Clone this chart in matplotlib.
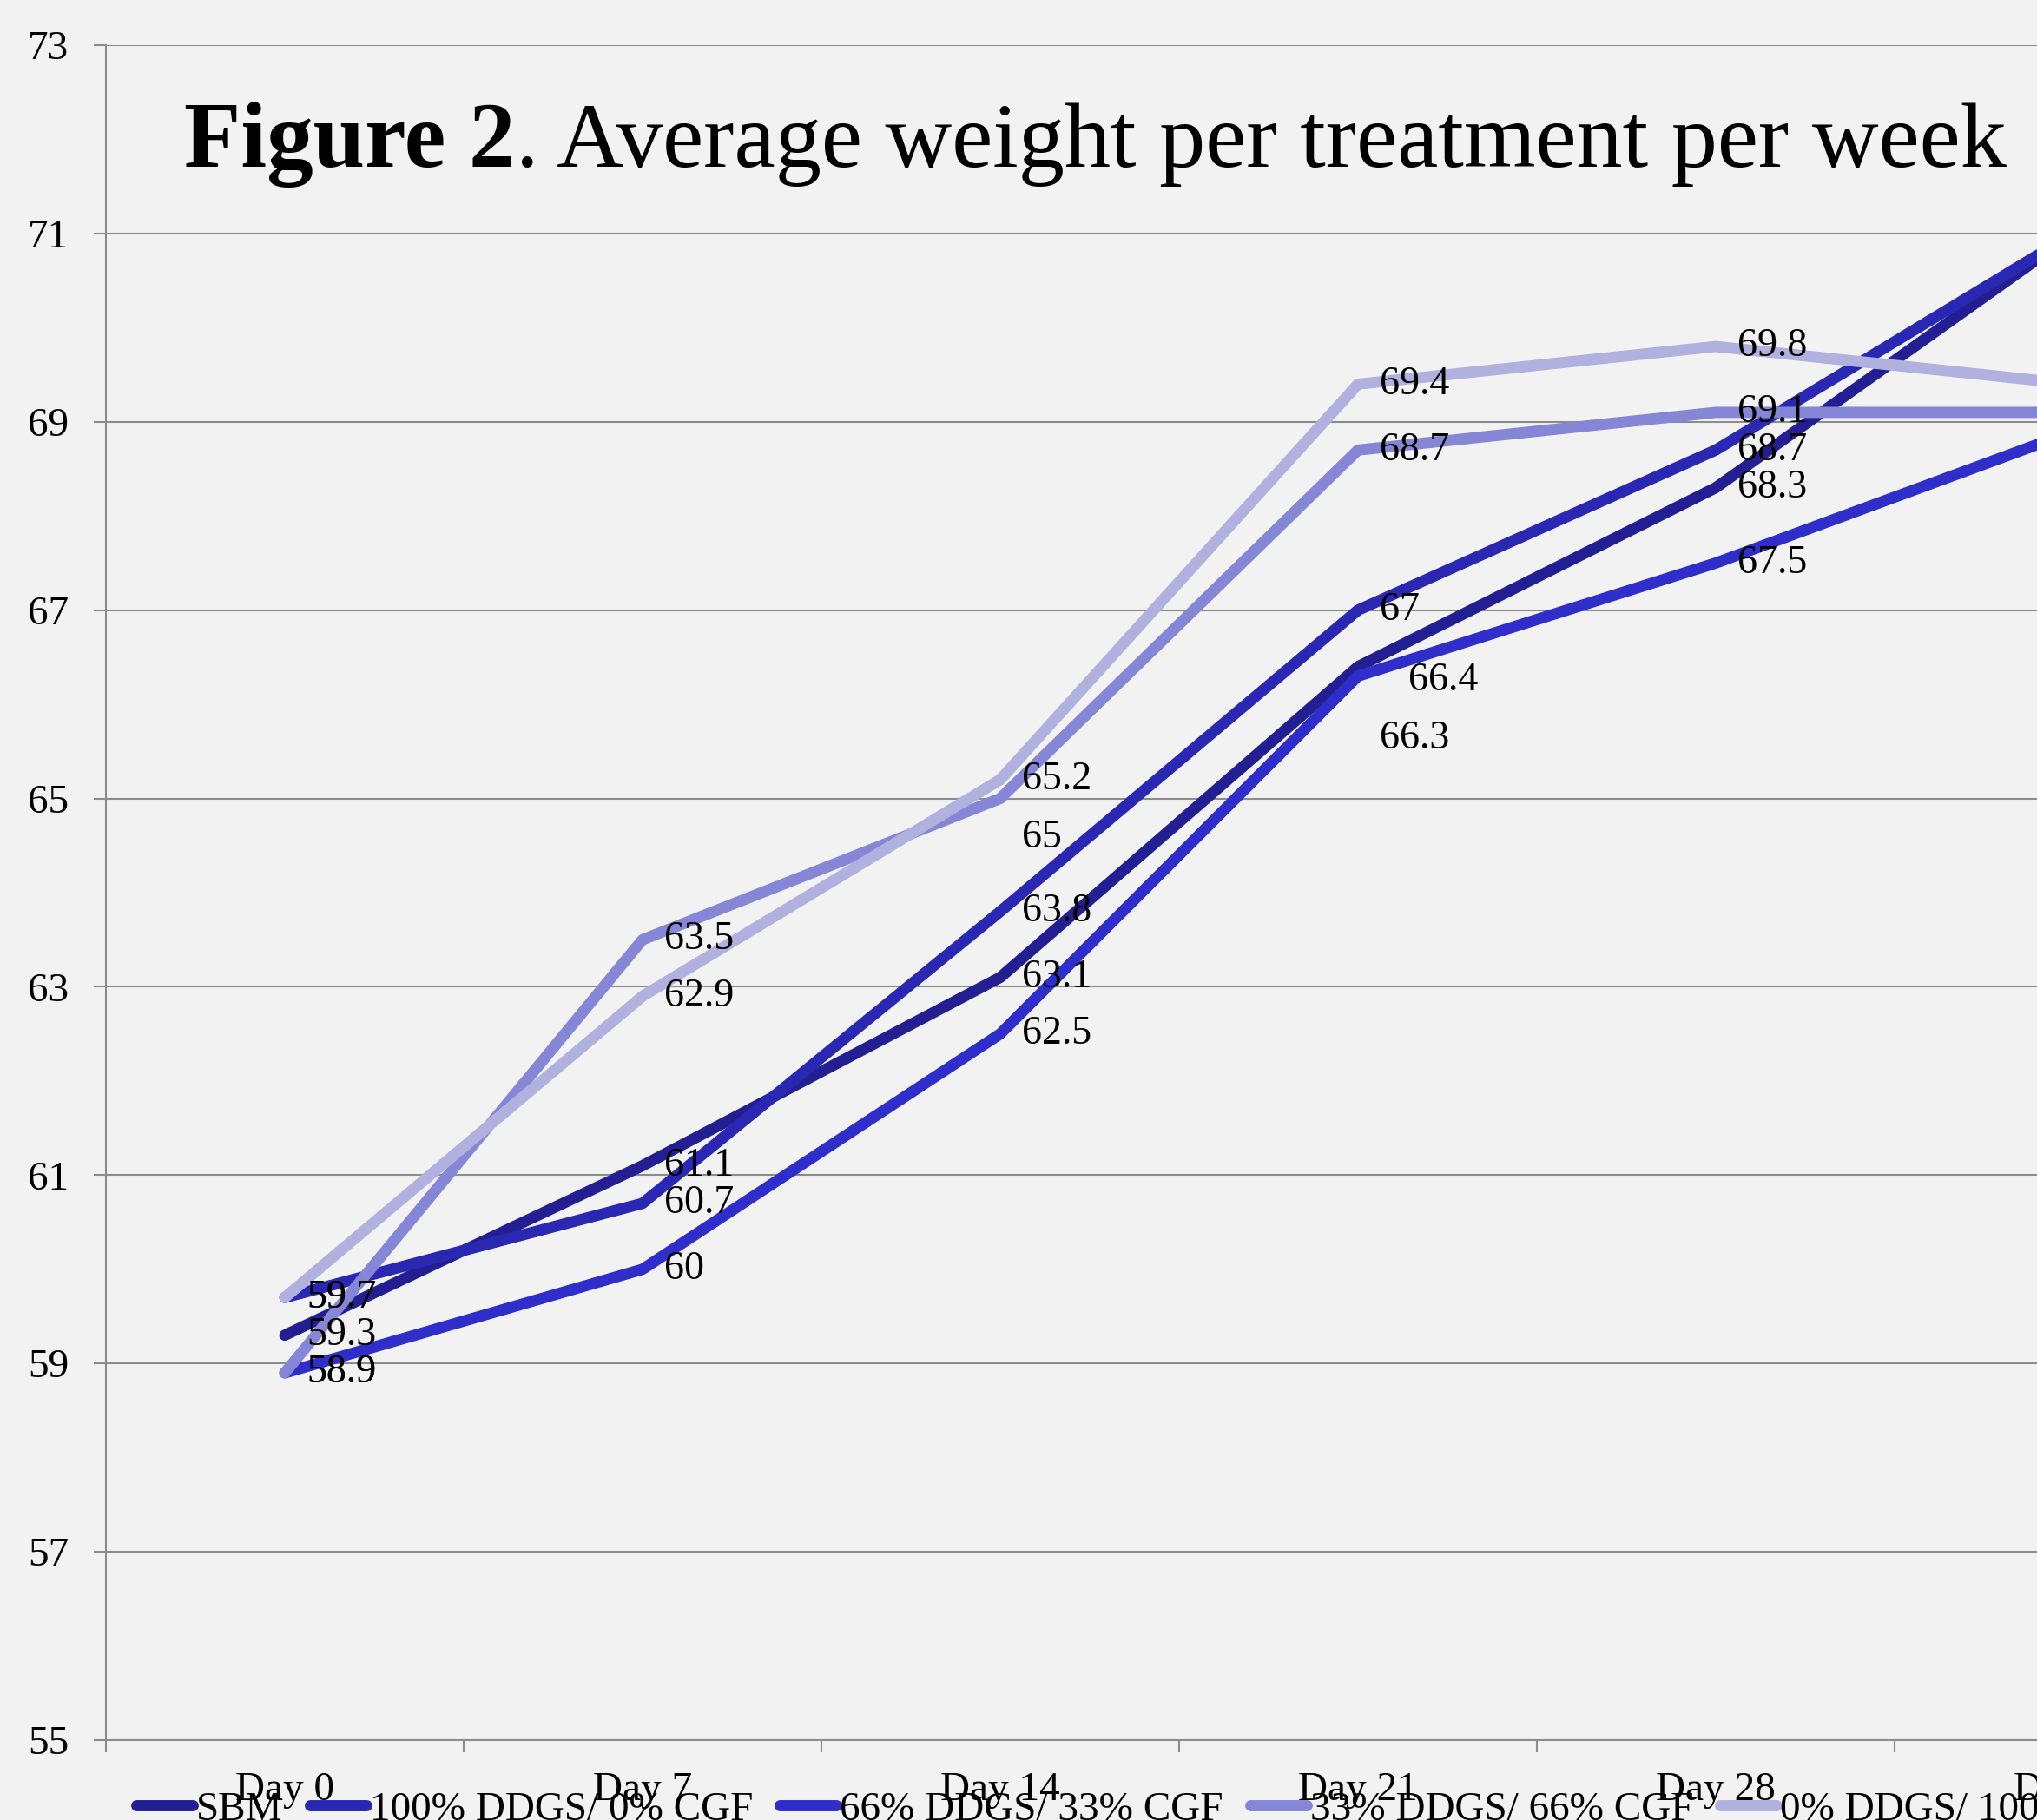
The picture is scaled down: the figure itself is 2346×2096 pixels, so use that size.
import matplotlib
matplotlib.use("Agg")
import matplotlib.pyplot as plt
from matplotlib.ticker import FixedLocator, NullFormatter

# ---- data -------------------------------------------------------------
days = ["Day 0", "Day 7", "Day 14", "Day 21", "Day 28", "Day 35"]
treatments = ["SBM", "100% DDGS/ 0% CGF", "66% DDGS/ 33% CGF",
              "33% DDGS/ 66% CGF", "0% DDGS/ 100% CGF"]
sbm = [59.3, 61.1, 63.1, 66.4, 68.3, 71.0]
ddgs100 = [59.7, 60.7, 63.8, 67.0, 68.7, 71.0]
ddgs66 = [58.9, 60.0, 62.5, 66.3, 67.5, 68.9]
ddgs33 = [58.9, 63.5, 65.0, 68.7, 69.1, 69.1]
ddgs0 = [59.7, 62.9, 65.2, 69.4, 69.8, 69.4]
y_ticks = [55, 57, 59, 61, 63, 65, 67, 69, 71, 73]

series = [sbm, ddgs100, ddgs66, ddgs33, ddgs0]
colors = ["#231F93", "#2A27B2", "#2F2ECA", "#8686D6", "#B1B1E0"]

# label nudges (pixels) for crowded points: (series index, day index) -> (dx, dy)
label_nudge = {(3, 2): (0, -45), (0, 3): (33, -16), (2, 3): (0, -72)}

# ---- figure -----------------------------------------------------------
W, H, DPI = 2346, 2096, 100
FONT = "Liberation Serif"
plt.rcParams["font.family"] = [FONT, "DejaVu Serif"]
BG = "#F2F2F2"
GRID = "#8C8C8C"

fig = plt.figure(figsize=(W / DPI, H / DPI), dpi=DPI, facecolor=BG)
ax_left, ax_right, ax_top, ax_bottom = 122, 122 + 6 * 412, 52, 2004
ax = fig.add_axes([ax_left / W, (H - ax_bottom) / H,
                   (ax_right - ax_left) / W, (ax_bottom - ax_top) / H])
ax.set_facecolor(BG)

x = list(range(len(days)))
for vals, col, name in zip(series, colors, treatments):
    ax.plot(x, vals, color=col, lw=9.3, solid_capstyle="round",
            solid_joinstyle="round", label=name, zorder=3, clip_on=False)

# value labels
px = 0.72  # points per pixel at this dpi
for si, vals in enumerate(series):
    for di, v in enumerate(vals):
        dx, dy = label_nudge.get((si, di), (0, 0))
        ax.annotate(f"{v:g}", (di, v), xytext=((25 + dx) * px, dy * px),
                    textcoords="offset points", ha="left", va="center",
                    fontsize=33, color="black", zorder=5, annotation_clip=False)

ax.set_xlim(-0.5, len(days) - 0.5)
ax.set_ylim(55, 73)
ax.set_yticks(y_ticks)
ax.set_xticks(x)
ax.set_xticklabels(days)
ax.xaxis.set_minor_locator(FixedLocator([i - 0.5 for i in range(len(days) + 1)]))
ax.xaxis.set_minor_formatter(NullFormatter())

ax.tick_params(axis="x", which="major", length=0, pad=26, labelsize=34)
ax.tick_params(axis="x", which="minor", length=10, width=1.5, color=GRID,
               direction="out")
ax.tick_params(axis="y", which="major", length=10, width=1.5, color=GRID,
               direction="out", pad=21, labelsize=34)

ax.grid(axis="y", color=GRID, lw=1.5, zorder=1)
ax.set_axisbelow(True)
for side in ("top", "right"):
    ax.spines[side].set_visible(False)
for side in ("left", "bottom"):
    ax.spines[side].set_color(GRID)
    ax.spines[side].set_linewidth(1.5)

# title: bold figure number followed by regular caption text
title_y = (H - 192) / H
t1 = fig.text(212 / W, title_y, "Figure 2", fontsize=77, fontweight="bold",
              ha="left", va="baseline")
renderer = fig.canvas.get_renderer()
bb = t1.get_window_extent(renderer)
fig.text(bb.x1 / W, title_y, ". Average weight per treatment per week",
         fontsize=76.5, ha="left", va="baseline")

# legend along the bottom edge
fig.legend(loc="center left", bbox_to_anchor=(157 / W, 12 / H), ncol=5,
           frameon=False, fontsize=34, handlelength=1.38, handletextpad=0.08,
           columnspacing=0.66, borderpad=0, borderaxespad=0)

fig.savefig("out.png", dpi=DPI, facecolor=BG)
